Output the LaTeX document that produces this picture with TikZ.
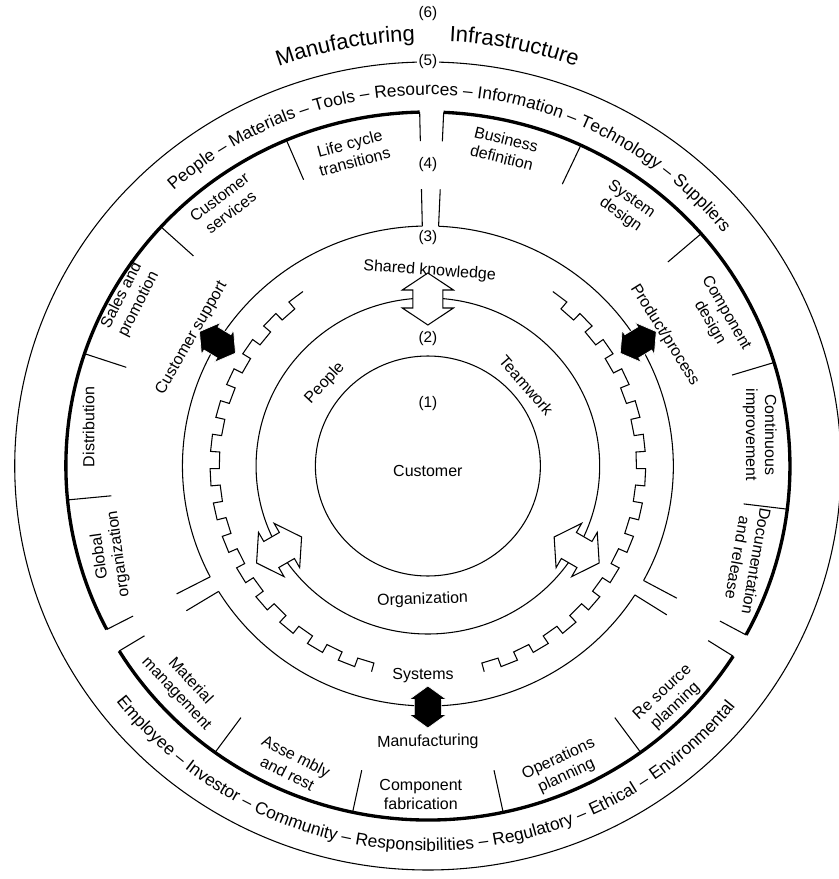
\documentclass[tikz,border=0pt]{standalone}
\usepackage{fontspec}
\setmainfont{Liberation Sans}
\usetikzlibrary{decorations.text}
% double-headed block arrow centred at polar point (#2:#3), axis radial
% #1 style, #4 half length, #5 head length, #6 head half width, #7 shaft half width
\newcommand\DArr[7]{%
  \begin{scope}[shift={(#2:#3)}, rotate={#2-90}]
    \draw[#1] (0,#4) -- (#6,{#4-#5}) -- (#7,{#4-#5}) -- (#7,{-#4+#5}) -- (#6,{-#4+#5})
      -- (0,-#4) -- (-#6,{-#4+#5}) -- (-#7,{-#4+#5}) -- (-#7,{#4-#5}) -- (-#6,{#4-#5}) -- cycle;
  \end{scope}}
\begin{document}
\begin{tikzpicture}[x=0.767pt,y=0.75pt,
  thinln/.style={line width=0.8pt},
  thickln/.style={line width=2.5pt},
  lbl/.style={font=\fontsize{12}{14.2}\selectfont, align=center, inner sep=0pt},
  num/.style={font=\fontsize{11.5}{13}\selectfont, inner sep=1pt},
  whitearrow/.style={draw, fill=white, line width=0.8pt, line join=miter},
  blackarrow/.style={draw=white, fill=black, line width=0.5pt, line join=miter}]
\useasboundingbox (-418.4,-413) rectangle (401.8,466);

% outer ring (5), core circles (1) and (2)
\draw[thinln] (0,0) circle[radius=404];
\draw[thinln] (0,0) circle[radius=110];
\draw[thinln] (0,0) circle[radius=168];

% the three big sectors of ring (4)
\draw[thickln] (91.3:354) arc[start angle=91.3, end angle=207.5, radius=354];
\draw[thickln] (-28.5:354) arc[start angle=-28.5, end angle=87.5, radius=354];
\draw[thickln] (211.5:354) arc[start angle=211.5, end angle=327.5, radius=354];
\draw[thinln] (91.3:240) arc[start angle=91.3, end angle=207.5, radius=240];
\draw[thinln] (-28.5:240) arc[start angle=-28.5, end angle=87.5, radius=240];
\draw[thinln] (211.5:240) arc[start angle=211.5, end angle=327.5, radius=240];
\foreach \a in {91.3,87.5,207.5,211.5,-28.5,-32.5} {
  \draw[thinln] (\a:240) -- (\a:277);
  \draw[thinln] (\a:325) -- (\a:354);
}
% dividers between the process areas
\foreach \a in {113,137.5,161.5,185.5,65,41,17,-7,234,258,282,306}
  \draw[thinln] (\a:311) -- (\a:354);

% stepped rings
\def\ri{204}\def\ro{213}
\draw[thinln] (125:\ro) \foreach \k in {0,...,13} {
  -- ({125+\k*9.286+4.64}:\ro) -- ({125+\k*9.286+4.64}:\ri)
  -- ({125+(\k+1)*9.286}:\ri) -- ({125+(\k+1)*9.286}:\ro) };
\draw[thinln] (55:\ro) \foreach \k in {0,...,13} {
  -- ({55-\k*9.286-4.64}:\ro) -- ({55-\k*9.286-4.64}:\ri)
  -- ({55-(\k+1)*9.286}:\ri) -- ({55-(\k+1)*9.286}:\ro) };

% block arrows
\DArr{whitearrow}{90}{167}{26}{17}{25}{14.7}
\DArr{whitearrow}{210}{168}{26}{17}{25}{14.7}
\DArr{whitearrow}{330}{168}{26}{17}{25}{14.7}
\DArr{blackarrow}{149}{240}{21}{13.5}{18.3}{13.2}
\DArr{blackarrow}{31}{240}{21}{13.5}{18.3}{13.2}
\DArr{blackarrow}{270}{241}{21}{13.5}{18.3}{13.2}

% level numbers
\node[num] (n1) at (0,62) {(1)};
\node[num] (n2) at (0,127) {(2)};
\node[num] (n3) at (0,228) {(3)};
\node[num] (n4) at (0,301) {(4)};
\node[num, fill=white] (n5) at (0,404) {(5)};
\node[num] (n6) at (0,452) {(6)};

% core and ring (2)
\node[lbl] (cust) at (0,-5) {Customer};
\node[lbl, rotate=47] (people) at (140.5:130.5) {People};
\node[lbl, rotate=-49] (team) at (39.9:125.5) {Teamwork};
\node[lbl, rotate=2] (org) at (267.8:134) {Organization};

% ring (3)
\node[lbl, rotate=-4] (shared) at (89.5:195) {Shared knowledge};
\node[lbl] (sys) at (268.7:210) {Systems};
\node[lbl, rotate=60] (csup) at (151:264) {Customer support};
\node[lbl, rotate=-58] (prod) at (29.5:266) {Product/process};
\node[lbl, rotate=1] (manu) at (270:276) {Manufacturing};

% ring (4) process areas
\node[lbl, rotate=15] (lct) at (103.3:322) {Life cycle\\transitions};
\node[lbl, rotate=37] (cserv) at (127.2:328) {Customer\\services};
\node[lbl, rotate=63] (sales) at (150.3:335) {Sales and\\promotion};
\node[lbl, rotate=90] (distr) at (173.3:334) {Distribution};
\node[lbl, rotate=98] (glob) at (196:324) {Global\\organization};
\node[lbl, rotate=-14] (bdef) at (76.8:326) {Business\\definition};
\node[lbl, rotate=-35] (sysd) at (53.2:323) {System\\design};
\node[lbl, rotate=-60] (compd) at (27.6:320) {Component\\design};
\node[lbl, rotate=-90] (cont) at (5.5:326) {Continuous\\improvement};
\node[lbl, rotate=-100] (doc) at (-16.7:326) {Documentation\\and release};
\node[lbl, rotate=-47] (mat) at (222.8:326) {Material\\management};
\node[lbl, rotate=-27] (asm) at (246:327) {Asse mbly\\and rest};
\node[lbl] (cfab) at (268.8:329) {Component\\fabrication};
\node[lbl, rotate=25] (ops) at (293.6:329) {Operations\\planning};
\node[lbl, rotate=43] (res) at (315.3:332) {Re source\\planning};

% ring (5) texts
\path[decorate, decoration={text along path, text align=center,
  text={|\fontsize{13}{15}\selectfont|People – Materials – Tools – Resources – Information – Technology – Suppliers}}]
  (175.5:371) arc[start angle=175.5, end angle=-4.5, radius=371];
\path[decorate, decoration={text along path, text align=center,
  text={|\fontsize{13}{15}\selectfont|Employee – Investor – Community – Responsibilities – Regulatory – Ethical – Environmental}}]
  (179.5:385) arc[start angle=179.5, end angle=359.5, radius=385];

% ring (6) title
\path[decorate, decoration={text along path, text align=center,
  text={|\fontsize{16.5}{18}\selectfont|Manufacturing}}]
  (120.9:425) arc[start angle=120.9, end angle=80.9, radius=425];
\path[decorate, decoration={text along path, text align=center,
  text={|\fontsize{16.5}{18}\selectfont|Infrastructure}}]
  (98.6:425) arc[start angle=98.6, end angle=58.6, radius=425];
\end{tikzpicture}
\end{document}
